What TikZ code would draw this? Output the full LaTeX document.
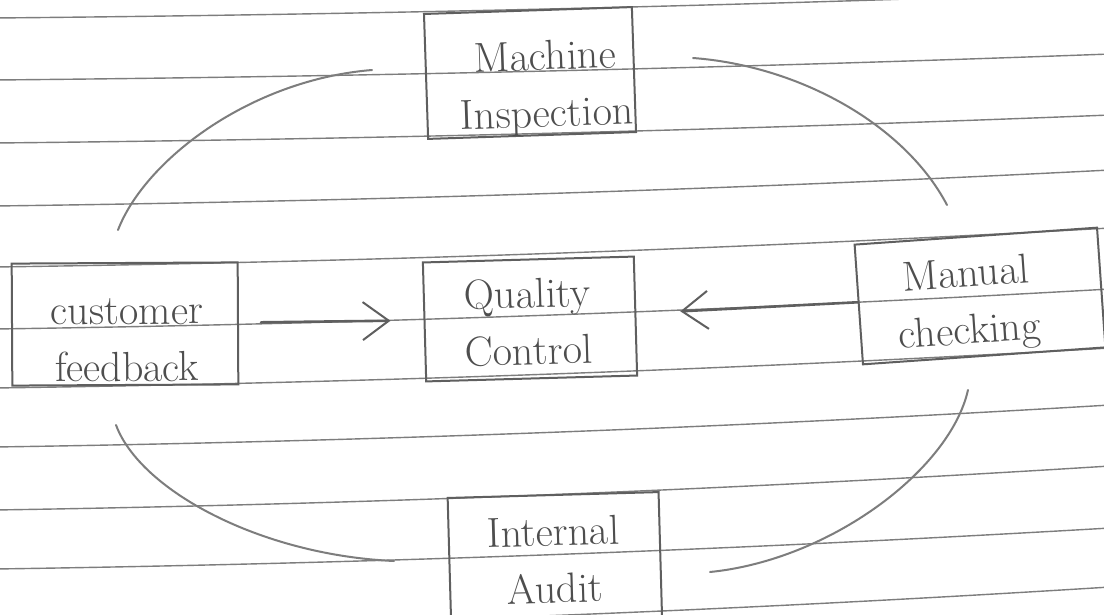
\documentclass[tikz,border=0pt]{standalone}
\usetikzlibrary{arrows.meta}
\definecolor{rule}{RGB}{125,125,125}
\definecolor{pencil}{RGB}{95,95,95}
\definecolor{ink}{RGB}{78,78,78}
\begin{document}
\begin{tikzpicture}[x=1pt,y=-1pt,
  paperrule/.style={draw=rule, line width=1.4pt},
  box/.style={draw=pencil, line width=2pt, rectangle, inner sep=0pt},
  lbl/.style={text=ink, align=center, inner sep=0pt,
    font=\fontsize{42}{57}\selectfont},
  loop/.style={draw=rule, line width=2pt, line cap=round},
  flow/.style={draw=pencil, line width=2.6pt, line cap=round,
    -{Straight Barb[length=26pt,width=38pt,line width=2pt]}}]

% page frame
\useasboundingbox (0,0) rectangle (1104,615);
\clip (0,0) rectangle (1104,615);
\fill[white] (0,0) rectangle (1104,615);

% ruled lines of the notebook page
\foreach \yl/\d in {18/-26, 80/-26, 143/-28, 206/-36, 267/-39, 329/-40,
                    388/-40, 447/-42, 510/-44, 569/-41, 631/-44}
  \draw[paperrule] (-5,\yl) .. controls (368,{\yl+0.1333*\d})
                   and (736,{\yl+0.4667*\d}) .. (1110,{\yl+\d});

% boxes
\node[box, minimum width=208pt, minimum height=125pt, rotate=1.9] (mi) at (530,73) {};
\node[box, minimum width=226pt, minimum height=122pt, rotate=0.3] (cf) at (125,324) {};
\node[box, minimum width=211pt, minimum height=119pt, rotate=1.6] (qc) at (530,319) {};
\node[box, minimum width=243pt, minimum height=120pt, rotate=4] (mc) at (980,296) {};
\node[box, minimum width=211pt, minimum height=136pt, rotate=1.6] (ia) at (555,563) {};

% labels
\node[lbl, rotate=1.9] (mi-t) at (546,88) {Machine\\Inspection};
\node[lbl, rotate=0.3] (cf-t) at (127,340) {customer\\feedback};
\node[lbl, rotate=1.6] (qc-t) at (528,322) {Quality\\Control};
\node[lbl, rotate=4]   (mc-t) at (968,305) {Manual\\checking};
\node[lbl, rotate=1.6] (ia-t) at (554,560) {Internal\\Audit};

% arrows into the centre
\draw[flow, shorten <=22pt, shorten >=33pt] (cf) -- (qc);
\draw[flow, shorten <=0pt, shorten >=44pt] (mc) -- (qc);

% loop arcs around the centre
\coordinate (tl-a) at (118,230); \coordinate (tl-b) at (372,70);
\coordinate (tr-a) at (693,58);  \coordinate (tr-b) at (947,205);
\coordinate (bl-a) at (116,425); \coordinate (bl-b) at (394,561);
\coordinate (br-a) at (968,390); \coordinate (br-b) at (710,572);
\draw[loop] (tl-a) .. controls (145,160) and (250,80) .. (tl-b);
\draw[loop] (tr-a) .. controls (800,66) and (905,125) .. (tr-b);
\draw[loop] (bl-a) .. controls (140,490) and (260,555) .. (bl-b);
\draw[loop] (br-a) .. controls (950,470) and (830,560) .. (br-b);
\end{tikzpicture}
\end{document}
